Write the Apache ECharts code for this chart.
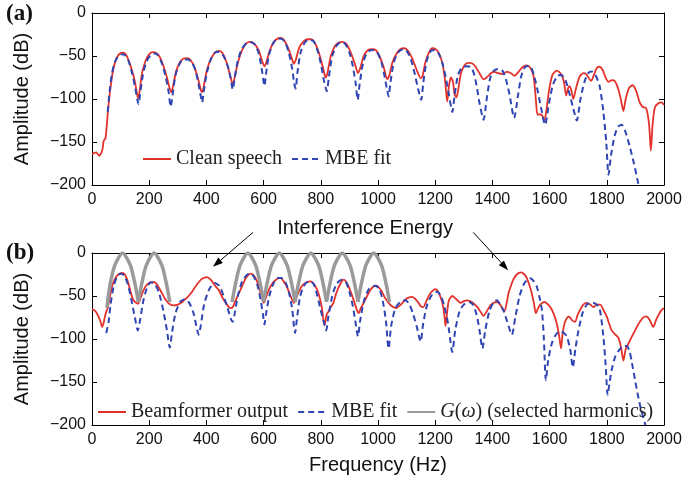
<!DOCTYPE html>
<html>
<head>
<meta charset="utf-8">
<title>Amplitude spectra</title>
<script src="https://cdn.jsdelivr.net/npm/echarts@6.0.0/dist/echarts.min.js"></script>
<style>
	html, body { margin:0; padding:0; background:#fff; }
	#chart { width:686px; height:486px; }
</style>
</head>
<body>
<div id="chart"></div>
<script type="text/javascript">
// ---- data: [frequency Hz, amplitude dB] ----
var cleanSpeech = [
	[0,-164],[8,-163],[14,-162],[20,-164],[26,-166],[32,-163],[37,-158],[40,-150],[44,-147],[47,-146],
	[52,-130],[56,-113],[60,-100],[65,-86],[72,-70],[80,-58],[90,-50],[100,-46.5],[108,-46],[118,-48],
	[128,-55],[140,-67],[150,-80],[158,-95],[161,-99],[166,-92],[175,-70],[188,-55],[200,-48],[212,-45.5],
	[222,-46],[235,-50],[248,-60],[262,-75],[272,-88],[278,-92],[284,-84],[295,-67],[308,-57],[320,-53],
	[332,-52.5],[345,-55],[358,-63],[372,-78],[382,-91],[386,-92],[392,-83],[402,-66],[418,-52],[432,-45.5],
	[443,-44],[455,-46],[470,-57],[484,-74],[492,-83],[498,-76],[510,-58],[525,-43],[540,-35],[554,-33.5],
	[568,-36],[582,-43],[595,-56],[603,-62],[610,-57],[620,-45],[635,-34],[650,-29.5],[659,-29],[670,-31],
	[685,-40],[700,-54],[706,-59],[712,-55],[725,-40],[740,-33],[755,-30.5],[765,-30.5],[778,-34],[793,-46],
	[808,-64],[817,-75],[823,-70],[835,-50],[850,-38],[865,-34],[877,-33.5],[890,-36],[905,-46],[920,-60],
	[930,-70],[938,-64],[950,-50],[965,-43],[980,-42],[992,-43],[1005,-50],[1020,-63],[1032,-77],[1040,-72],
	[1050,-58],[1065,-47],[1080,-41.5],[1092,-41],[1105,-44],[1120,-53],[1135,-66],[1150,-76],[1156,-73],[1165,-58],
	[1178,-46],[1190,-41],[1200,-41.5],[1212,-46],[1225,-58],[1235,-80],[1242,-103],[1248,-85],[1255,-75],[1262,-80],
	[1268,-95],[1274,-98],[1280,-90],[1290,-70],[1302,-61],[1315,-58],[1328,-58.5],[1340,-62],[1355,-70],[1369,-77],
	[1380,-75],[1395,-70],[1407,-68.5],[1420,-70],[1435,-71],[1450,-68.5],[1465,-70],[1477,-73],[1490,-69],[1505,-63],
	[1520,-61],[1533,-64],[1543,-72],[1548,-85],[1553,-105],[1558,-118],[1570,-118],[1575,-120],[1581,-126],[1588,-115],
	[1598,-90],[1610,-72],[1625,-67],[1640,-71],[1650,-80],[1658,-96],[1664,-88],[1670,-85],[1676,-90],[1683,-100],
	[1692,-88],[1705,-74],[1718,-70],[1728,-71],[1745,-79],[1755,-72],[1765,-64],[1775,-62.5],[1785,-66],[1796,-75],
	[1806,-80],[1818,-78],[1828,-79],[1840,-88],[1850,-102],[1858,-114],[1866,-100],[1878,-87],[1890,-84],[1902,-90],
	[1915,-104],[1925,-109],[1938,-111],[1948,-130],[1954,-160],[1960,-130],[1968,-110],[1980,-105],[1992,-104],[2000,-107]
];
var mbeFitA = [
	[55,-115],[62,-90],[70,-70],[80,-57],[92,-50],[105,-48],[115,-49],[128,-56],[140,-70],[150,-85],
	[158,-100],[163,-106],[168,-95],[178,-72],[190,-57],[205,-49],[218,-47],[230,-49],[245,-59],[258,-75],
	[268,-92],[275,-109],[282,-95],[292,-72],[305,-60],[320,-54],[335,-54],[350,-58],[362,-67],[372,-82],
	[380,-96],[385,-104],[390,-93],[400,-72],[415,-54],[430,-46],[445,-45],[460,-50],[475,-62],[485,-76],
	[492,-89],[498,-78],[508,-58],[522,-43],[540,-35],[555,-34],[570,-37],[583,-47],[593,-64],[600,-80],
	[603,-85],[608,-72],[618,-50],[632,-36],[648,-30],[662,-30],[675,-34],[688,-46],[700,-65],[707,-82],
	[712,-88],[718,-70],[730,-45],[745,-34],[760,-31],[775,-33],[790,-45],[802,-62],[812,-80],[821,-91],
	[828,-75],[840,-50],[855,-38],[870,-34],[885,-36],[900,-46],[912,-62],[922,-82],[929,-101],[936,-82],
	[948,-58],[962,-46],[980,-43],[995,-45],[1010,-55],[1022,-72],[1032,-90],[1037,-97],[1043,-82],[1055,-58],
	[1070,-46],[1088,-42],[1102,-45],[1115,-54],[1128,-70],[1140,-88],[1151,-101],[1158,-82],[1170,-56],[1185,-44],
	[1200,-43],[1212,-47],[1225,-58],[1237,-75],[1248,-95],[1260,-115],[1268,-95],[1280,-72],[1295,-63],[1312,-62],
	[1325,-63],[1335,-70],[1345,-85],[1355,-105],[1369,-124],[1380,-100],[1392,-76],[1405,-67],[1420,-65],[1435,-67],
	[1448,-78],[1460,-95],[1476,-122],[1490,-95],[1502,-72],[1518,-62],[1532,-62],[1545,-72],[1558,-90],[1570,-110],
	[1584,-130],[1598,-105],[1612,-83],[1628,-73],[1640,-72],[1655,-78],[1668,-92],[1682,-110],[1695,-125],[1708,-100],
	[1722,-80],[1735,-70],[1748,-68],[1760,-72],[1775,-85],[1788,-115],[1798,-150],[1806,-188],[1815,-165],[1828,-142],
	[1840,-132],[1852,-130],[1865,-138],[1880,-155],[1895,-175],[1910,-198],[1917,-205]
];
var beamOutput = [
	[0,-65.5],[10,-67],[20,-72],[30,-80],[35,-86],[40,-82],[48,-70],[55,-64],[62,-52],[70,-39],
	[80,-30],[92,-25],[105,-23],[115,-25],[125,-33],[135,-45],[145,-55],[161,-59],[170,-52],[182,-42],
	[195,-36],[208,-34],[219,-34],[230,-38],[245,-47],[257,-54],[270,-59],[286,-61],[300,-60],[312,-58],
	[325,-54],[338,-50],[350,-45],[362,-39],[373,-34],[385,-30],[402,-28],[415,-31],[430,-38],[443,-43],
	[458,-53],[472,-60],[484,-64],[492,-63],[505,-53],[519,-43],[535,-31],[545,-26],[554,-24],[565,-26],
	[577,-33],[588,-45],[601,-58],[610,-50],[624,-39],[640,-32],[659,-29],[670,-33],[681,-39],[692,-48],
	[706,-58],[718,-49],[733,-39],[750,-34],[765,-33],[780,-38],[792,-47],[803,-62],[813,-84],[820,-72],
	[827,-68],[835,-63],[844,-58],[855,-46],[868,-36],[880,-31],[893,-36],[909,-49],[920,-60],[932,-70],
	[940,-64],[950,-58],[962,-50],[975,-42],[994,-38],[1010,-43],[1026,-53],[1045,-61],[1064,-64],[1080,-60],
	[1100,-53],[1119,-51],[1135,-55],[1150,-62],[1158,-63],[1170,-55],[1185,-46],[1201,-42],[1212,-46],[1225,-58],
	[1232,-72],[1236,-85],[1242,-68],[1248,-55],[1260,-50],[1275,-54],[1289,-58],[1300,-56],[1312,-55],[1328,-57],
	[1345,-62],[1358,-68],[1369,-73],[1380,-68],[1395,-60],[1415,-57],[1427,-60],[1442,-68],[1450,-58],[1456,-47],
	[1465,-38],[1473,-31],[1485,-25],[1500,-22.5],[1512,-25],[1520,-29],[1530,-38],[1538,-47],[1545,-58],[1552,-70],
	[1560,-64],[1567,-60],[1582,-57],[1595,-60],[1608,-66],[1620,-76],[1629,-88],[1635,-100],[1640,-111],[1646,-92],
	[1654,-80],[1662,-75],[1668,-74],[1678,-78],[1689,-80],[1698,-72],[1707,-66],[1718,-60],[1730,-58],[1742,-60],
	[1753,-63],[1765,-60],[1777,-60],[1788,-66],[1800,-74],[1808,-82],[1817,-90],[1830,-95],[1841,-99],[1850,-110],
	[1858,-125],[1866,-112],[1876,-105],[1888,-97],[1899,-90],[1910,-83],[1922,-77],[1932,-74],[1940,-74],[1950,-78],
	[1963,-86],[1972,-78],[1981,-72],[1990,-67],[2000,-64]
];
var mbeFitB = [
	[50,-93],[58,-80],[65,-60],[75,-40],[88,-27],[100,-24],[112,-26],[125,-36],[138,-55],[150,-75],
	[160,-90],[168,-78],[180,-55],[195,-38],[208,-34],[220,-36],[235,-47],[250,-68],[262,-90],[272,-110],
	[280,-92],[292,-70],[308,-57],[324,-54],[340,-58],[355,-70],[365,-85],[373,-95],[380,-85],[392,-60],
	[410,-42],[429,-35],[445,-38],[460,-50],[475,-65],[486,-77],[492,-80],[498,-72],[510,-50],[525,-33],
	[540,-26],[552,-24],[565,-27],[578,-37],[590,-55],[598,-72],[603,-83],[608,-72],[620,-50],[635,-35],
	[650,-29],[662,-29],[675,-33],[688,-45],[700,-65],[706,-85],[710,-93],[716,-78],[728,-50],[745,-36],
	[762,-33],[775,-36],[788,-50],[800,-67],[812,-82],[819,-90],[826,-75],[840,-50],[855,-36],[874,-31],
	[888,-34],[900,-45],[912,-62],[922,-82],[930,-97],[937,-80],[950,-57],[968,-42],[990,-38],[1005,-42],
	[1018,-58],[1028,-80],[1037,-111],[1046,-85],[1060,-65],[1078,-57],[1096,-55],[1110,-60],[1122,-70],[1135,-85],
	[1149,-103],[1158,-82],[1172,-60],[1190,-48],[1207,-45],[1220,-50],[1232,-62],[1245,-82],[1260,-115],[1270,-90],
	[1285,-68],[1300,-60],[1318,-57],[1332,-60],[1345,-72],[1355,-90],[1365,-111],[1375,-90],[1390,-67],[1405,-57],
	[1415,-55],[1428,-60],[1440,-68],[1452,-80],[1468,-95],[1480,-75],[1495,-50],[1510,-36],[1522,-31],[1532,-29.5],
	[1545,-33],[1555,-39],[1565,-52],[1573,-66],[1580,-100],[1587,-148],[1595,-125],[1608,-105],[1622,-95],[1637,-91],
	[1650,-93],[1660,-97],[1672,-112],[1681,-133],[1690,-112],[1701,-90],[1715,-70],[1730,-60],[1745,-58],[1759,-58.5],
	[1770,-62],[1777,-68],[1788,-97],[1796,-130],[1803,-165],[1810,-150],[1817,-136],[1830,-120],[1845,-112],[1860,-108],
	[1870,-108],[1880,-115],[1888,-128],[1900,-150],[1911,-169],[1922,-185],[1935,-200]
];
// selected harmonics G(w), one arc per harmonic
var gArcs = [
	[[52,-64],[63,-37],[80,-14],[107,0],[134,-14],[151,-37],[162,-57]],
	[[162,-57],[173,-37],[190,-14],[217,0],[244,-14],[261,-37],[272,-57]],
	[[490,-57],[501,-37],[518,-14],[545,0],[572,-14],[589,-37],[600,-57]],
	[[600,-57],[611,-37],[628,-14],[655,0],[682,-14],[699,-37],[710,-57]],
	[[710,-57],[721,-37],[738,-14],[765,0],[792,-14],[809,-37],[820,-57]],
	[[820,-57],[831,-37],[848,-14],[875,0],[902,-14],[919,-37],[930,-57]],
	[[930,-57],[941,-37],[958,-14],[985,0],[1012,-14],[1029,-37],[1040,-57]]
];
// arrows of the "Interference Energy" note (data coords of panel b)
var noteCenter = [955, 29];
var arrowsB = [
	[[563, 24], [423, -16]],
	[[1333, 24], [1455, -20]]
];

var RED = '#e3312b', BLUE = '#2f45b3', GRAY = '#9a9a9a';
var SANS = '"Liberation Sans", Arial, sans-serif';
var SERIF = '"Liberation Serif", "Times New Roman", serif';
var GNAME = 'G(ω) (selected harmonics)';

function minus(v) { return String(v).replace('-', '\u2212'); }

function xAx(g, pos, name) {
	return {
		gridIndex: g, type: 'value', min: 0, max: 2000, interval: 200, position: pos,
		name: name || '', nameLocation: 'middle', nameGap: 30,
		nameTextStyle: { fontFamily: SANS, fontSize: 20, color: '#111' },
		axisLine: { onZero: false, lineStyle: { color: '#000', width: 1 } },
		axisTick: { inside: true, length: 5, lineStyle: { color: '#000' } },
		axisLabel: { show: pos == 'bottom', fontFamily: SANS, fontSize: 16, color: '#111', margin: 7,
			formatter: function (v) { return String(v); } },
		splitLine: { show: false }
	};
}
function yAx(g, pos) {
	return {
		gridIndex: g, type: 'value', min: -200, max: 0, interval: 50, position: pos,
		name: pos == 'left' ? 'Amplitude (dB)' : '', nameLocation: 'middle', nameGap: 60, nameRotate: 90,
		nameTextStyle: { fontFamily: SANS, fontSize: 20, color: '#111' },
		axisLine: { onZero: false, lineStyle: { color: '#000', width: 1 } },
		axisTick: { inside: true, length: 5, lineStyle: { color: '#000' } },
		axisLabel: { show: pos == 'left', fontFamily: SANS, fontSize: 16, color: '#111', margin: 6, formatter: minus },
		splitLine: { show: false }
	};
}
function lineSeries(name, data, g, color, width, dashed) {
	return {
		name: name, type: 'line', xAxisIndex: g * 2, yAxisIndex: g * 2, data: data,
		symbol: 'none', showSymbol: false, smooth: 0.25, animation: false,
		lineStyle: { color: color, width: width, type: dashed ? [6, 4] : 'solid' },
		itemStyle: { color: color }
	};
}

var series = [
	lineSeries('Clean speech', cleanSpeech, 0, RED, 1.8, false),
	lineSeries('MBE fit', mbeFitA, 0, BLUE, 2, true),
	lineSeries('Beamformer output', beamOutput, 1, RED, 1.8, false),
	lineSeries('MBE fit', mbeFitB, 1, BLUE, 2, true)
];
for (var i = 0; i < gArcs.length; i++) {
	series.push(lineSeries(GNAME, gArcs[i], 1, GRAY, 3.5, false));
}

var legendText = {
	fontFamily: SERIF, fontSize: 20, color: '#222',
	rich: { i: { fontFamily: SERIF, fontSize: 20, fontStyle: 'italic', color: '#222' } }
};

var chart = echarts.init(document.getElementById('chart'));
var option = {
	animation: false,
	backgroundColor: '#fff',
	grid: [
		{ left: 92, top: 13, width: 572, height: 172 },
		{ left: 92, top: 253, width: 572, height: 172 }
	],
	xAxis: [xAx(0, 'bottom'), xAx(0, 'top'), xAx(1, 'bottom', 'Frequency (Hz)'), xAx(1, 'top')],
	yAxis: [yAx(0, 'left'), yAx(0, 'right'), yAx(1, 'left'), yAx(1, 'right')],
	legend: [
		{
			data: ['Clean speech', 'MBE fit'], left: 137, top: 144, itemWidth: 28, itemHeight: 14, itemGap: 9,
			selectedMode: false, textStyle: legendText, itemStyle: { opacity: 0 }
		},
		{
			data: ['Beamformer output', 'MBE fit', GNAME], left: 92, top: 397, itemWidth: 28, itemHeight: 14, itemGap: 9,
			selectedMode: false, textStyle: legendText, itemStyle: { opacity: 0 },
			formatter: function (n) { return n == GNAME ? '{i|G}({i|ω}) (selected harmonics)' : n; }
		}
	],
	series: series
};
chart.setOption(option);

// annotations: panel tags, note text and arrows
var gfx = [
	{ type: 'text', x: 6, y: 3, style: { text: '(a)', fontFamily: SERIF, fontSize: 23, fontWeight: 'bold', fill: '#111' } },
	{ type: 'text', x: 6, y: 242, style: { text: '(b)', fontFamily: SERIF, fontSize: 23, fontWeight: 'bold', fill: '#111' } }
];
var c = chart.convertToPixel({ gridIndex: 1 }, noteCenter);
gfx.push({ type: 'text', x: c[0], y: c[1], style: { text: 'Interference Energy', fontFamily: SANS, fontSize: 20, fill: '#111', align: 'center', verticalAlign: 'middle' } });
arrowsB.forEach(function (a) {
	var p0 = chart.convertToPixel({ gridIndex: 1 }, a[0]);
	var p1 = chart.convertToPixel({ gridIndex: 1 }, a[1]);
	var dx = p1[0] - p0[0], dy = p1[1] - p0[1];
	var len = Math.sqrt(dx * dx + dy * dy), ux = dx / len, uy = dy / len;
	var hl = 10, hw = 3.5;
	var bx = p1[0] - ux * hl, by = p1[1] - uy * hl;
	gfx.push({ type: 'line', shape: { x1: p0[0], y1: p0[1], x2: bx, y2: by }, style: { stroke: '#000', lineWidth: 1 } });
	gfx.push({ type: 'polygon', shape: { points: [[p1[0], p1[1]], [bx - uy * hw, by + ux * hw], [bx + uy * hw, by - ux * hw]] }, style: { fill: '#000' } });
});
chart.setOption({ graphic: gfx });
</script>
</body>
</html>
